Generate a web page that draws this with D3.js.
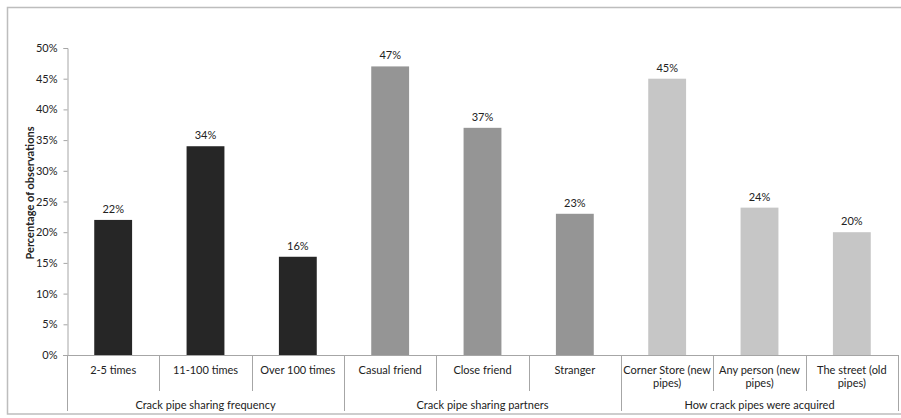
<!DOCTYPE html>
<html>
<head>
<meta charset="utf-8">
<script src="https://cdn.jsdelivr.net/npm/d3@7"></script>
<style>
  html, body { margin: 0; padding: 0; background: #fff; }
  svg text { font-family: "Lato", "Open Sans", sans-serif; fill: #222; }
</style>
</head>
<body>
<svg id="chart" width="901" height="418"></svg>
<script>
// Category labels (line breaks with "\n"), group names, and values in percent
const categories = [
  "2-5 times", "11-100 times", "Over 100 times",
  "Casual friend", "Close friend", "Stranger",
  "Corner Store (new\npipes)", "Any person (new\npipes)", "The street (old\npipes)"
];
const values = [22, 34, 16, 47, 37, 23, 45, 24, 20];
const groupNames = [
  "Crack pipe sharing frequency",
  "Crack pipe sharing partners",
  "How crack pipes were acquired"
];
const groupSizes = [3, 3, 3];
const groupColors = ["#262626", "#959595", "#c6c6c6"];
const yTicks = [0, 5, 10, 15, 20, 25, 30, 35, 40, 45, 50];

const svg = d3.select("#chart");
const plotLeft = 67, plotRight = 898, plotTop = 48, plotBottom = 355;

// outer frame
svg.append("rect")
  .attr("x", 7.5).attr("y", 7.5).attr("width", 900).attr("height", 406.5)
  .attr("fill", "none").attr("stroke", "#bdbdbd").attr("stroke-width", 1.5);

const x = d3.scaleBand().domain(d3.range(categories.length))
  .range([plotLeft, plotRight]).paddingInner(0.59).paddingOuter(0.295);
const y = d3.scaleLinear().domain([0, 50]).range([plotBottom, plotTop]);

// group index for each category
const groupOf = [];
groupSizes.forEach((n, g) => { for (let i = 0; i < n; i++) groupOf.push(g); });

// y axis
const yAxis = d3.axisLeft(y).tickValues(yTicks).tickSize(4).tickPadding(6)
  .tickFormat(d => d + "%");
const ga = svg.append("g").attr("transform", `translate(${plotLeft + 0.5},0)`).call(yAxis);
ga.select(".domain").attr("stroke", "#a6a6a6");
ga.selectAll(".tick line").attr("stroke", "#a6a6a6");
ga.selectAll(".tick text").style("font-size", "11px").attr("fill", "#222")
  .style("font-family", "Lato, 'Open Sans', sans-serif");

// y axis title
svg.append("text")
  .attr("transform", `translate(34,193) rotate(-90)`)
  .attr("text-anchor", "middle")
  .style("font-size", "11px").style("font-weight", "bold")
  .text("Percentage of observations");

// bars
svg.selectAll("rect.bar").data(values).join("rect")
  .attr("class", "bar")
  .attr("x", (d, i) => x(i))
  .attr("width", x.bandwidth())
  .attr("y", d => y(d))
  .attr("height", d => y(0) - y(d))
  .attr("fill", (d, i) => groupColors[groupOf[i]]);

// value labels
svg.selectAll("text.val").data(values).join("text")
  .attr("class", "val")
  .attr("x", (d, i) => x(i) + x.bandwidth() / 2)
  .attr("y", d => y(d) - 7)
  .attr("text-anchor", "middle")
  .style("font-size", "11px")
  .text(d => d + "%");

// category axis: baseline, separators, labels
const step = x.step();
const edge = i => plotLeft + i * step; // left edge of category slot i
svg.append("line")
  .attr("x1", plotLeft - 4).attr("x2", plotRight)
  .attr("y1", plotBottom + 0.5).attr("y2", plotBottom + 0.5)
  .attr("stroke", "#a6a6a6");

const groupStarts = [0];
groupSizes.forEach((n, g) => groupStarts.push(groupStarts[g] + n));

for (let i = 0; i <= categories.length; i++) {
  const isGroupEdge = groupStarts.includes(i);
  svg.append("line")
    .attr("x1", Math.round(edge(i)) + 0.5).attr("x2", Math.round(edge(i)) + 0.5)
    .attr("y1", plotBottom).attr("y2", isGroupEdge ? 411 : 391)
    .attr("stroke", "#a6a6a6");
}

categories.forEach((c, i) => {
  const t = svg.append("text")
    .attr("x", edge(i) + step / 2).attr("y", 374)
    .attr("text-anchor", "middle")
    .style("font-size", "11px");
  c.split("\n").forEach((line, k) => {
    t.append("tspan").attr("x", edge(i) + step / 2).attr("dy", k === 0 ? 0 : 13).text(line);
  });
});

groupNames.forEach((g, k) => {
  const cx = (edge(groupStarts[k]) + edge(groupStarts[k + 1])) / 2;
  svg.append("text")
    .attr("x", cx).attr("y", 409)
    .attr("text-anchor", "middle")
    .style("font-size", "11px")
    .text(g);
});
</script>
</body>
</html>
